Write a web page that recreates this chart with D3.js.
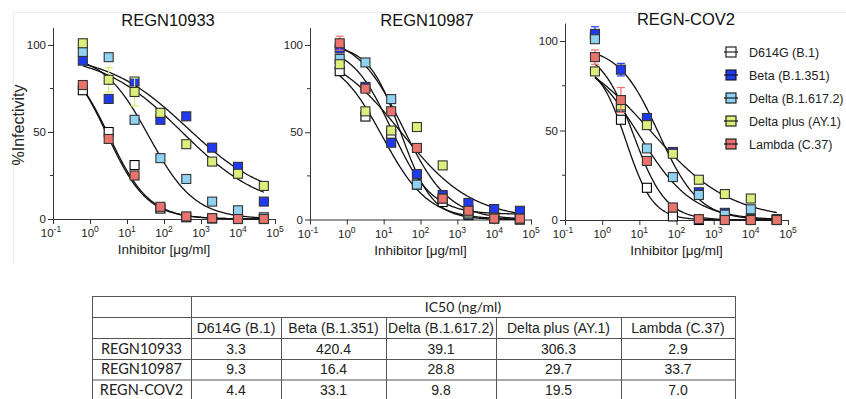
<!DOCTYPE html>
<html><head><meta charset="utf-8">
<script src="https://cdn.jsdelivr.net/npm/d3@7"></script>
<style>body{margin:0;background:#fff;} svg{display:block;}</style>
</head><body>
<script>
// ---------- DATA ----------
const concentrations = [0.64, 3.2, 16, 80, 400, 2000, 10000, 50000];
const variants = ["D614G (B.1)", "Beta (B.1.351)", "Delta (B.1.617.2)", "Delta plus (AY.1)", "Lambda (C.37)"];
const antibodies = ["REGN10933", "REGN10987", "REGN-COV2"];
const xTickExponents = [-1, 0, 1, 2, 3, 4, 5];
const yTickValues = [0, 50, 100];
const yMinorTicks = [25, 75];

// % infectivity per variant (rows follow `variants`)
const regn10933Values = [
  [74, 50, 31, 6, 1, 0.3, 0, 0],
  [91, 69, 79, 57, 59, 41, 30, 10],
  [96, 93, 57, 35, 23, 10, 5, 1],
  [101, 80, 73, 61, 43, 33, 26, 19],
  [77, 46, 25, 7, 1.5, 0.5, 0, 0]
];
const regn10987Values = [
  [85, 59, 49, 20, 10, 2.5, 0.5, 0],
  [98, 76, 44, 26, 14, 9.5, 6, 5],
  [92, 90, 69, 20, 12, 3, 1, 0],
  [89, 62, 51, 53, 31, 4, 1, 0.5],
  [101, 75, 62, 41, 12, 5, 0.5, 0.5]
];
const regnCov2Values = [
  [102, 56, 18, 2, 0, 0, 0, 0],
  [104, 84, 57, 38, 15.5, 4, 0.5, 0.5],
  [101, 63, 40, 24, 14, 3, 6, 0],
  [83, 64, 53, 37, 22.5, 14.5, 12, 0.5],
  [91, 67, 33, 7, 0.5, 0, 0, 0]
];
// error bars: [antibody index, variant index, concentration index, SD]
const errorBars = [
  [0, 3, 1, 7], [0, 3, 2, 8], [0, 4, 0, 2],
  [1, 4, 0, 4],
  [2, 1, 0, 4], [2, 1, 1, 3.5], [2, 4, 0, 4], [2, 4, 1, 7], [2, 3, 6, 2]
];

// IC50 table (ng/ml), rows follow `antibodies`, columns follow `variants`
const ic50Table = [
  [3.3, 420.4, 39.1, 306.3, 2.9],
  [9.3, 16.4, 28.8, 29.7, 33.7],
  [4.4, 33.1, 9.8, 19.5, 7.0]
];
// fitted 4PL curve parameters [top, bottom, hill] per variant
const regn10933Fit = [[95, 0, 0.8], [95, 10, 0.4], [95, 0, 0.7], [95, 5, 0.4], [97, 0, 0.8]];
const regn10987Fit = [[95, 0, 0.7], [100, 3, 0.8], [100, 0, 1.0], [100, 0, 0.45], [105, 0, 0.7]];
const regnCov2Fit  = [[88, 0, 1.2], [97, 0, 0.8], [95, 0, 0.6], [100, 0, 0.4], [95, 0, 1.0]];

const allValues = [regn10933Values, regn10987Values, regnCov2Values];
const allFits = [regn10933Fit, regn10987Fit, regnCov2Fit];

// ---------- STYLE / LAYOUT ----------
const colors = ["#ffffff", "#1f3af2", "#8fd2f2", "#dcef7c", "#e8746d"];
const errColors = ["#000000", "#2a45f5", "#7cc8f0", "#d6ec6a", "#ef6f6f"];
const font = "'Liberation Sans', Arial, sans-serif";
const panels = [
  {x0: 53, x1: 275, y0: 219, y100: 45, titleX: 168, titleY: 26},
  {x0: 310, x1: 531, y0: 219.5, y100: 45, titleX: 427, titleY: 26},
  {x0: 565, x1: 788, y0: 220, y100: 41, titleX: 686, titleY: 25}
];

const svg = d3.select("body").append("svg").attr("width", 846).attr("height", 399);

// faint frame of the original figure
svg.append("line").attr("x1", 13).attr("x2", 846).attr("y1", 12.5).attr("y2", 12.5).attr("stroke", "#ececec");
svg.append("line").attr("x1", 13.5).attr("x2", 13.5).attr("y1", 12).attr("y2", 265).attr("stroke", "#ececec");

panels.forEach((p, pi) => {
  const g = svg.append("g");
  const x = d3.scaleLog().domain([0.1, 1e5]).range([p.x0, p.x1]);
  const yTop = p.y0 - 1.1 * (p.y0 - p.y100);
  const y = d3.scaleLinear().domain([0, 110]).range([p.y0, yTop]);

  // x axis
  const xa = g.append("g").attr("transform", `translate(0,${p.y0})`)
    .call(d3.axisBottom(x).tickValues(xTickExponents.map(e => Math.pow(10, e))).tickSize(5).tickSizeOuter(0).tickFormat(""));
  xa.select(".domain").attr("stroke", "#333");
  xa.selectAll(".tick line").attr("stroke", "#333");
  xTickExponents.forEach(e => {
    const t = g.append("text").attr("x", x(Math.pow(10, e)) - (e < 0 ? 2 : 0)).attr("y", p.y0 + 18)
      .attr("text-anchor", "middle").attr("font-family", font).attr("font-size", 11.5).attr("fill", "#222");
    t.append("tspan").text("10");
    t.append("tspan").attr("dy", -5).attr("font-size", 8.5).text(String(e));
  });

  // y axis
  const ya = g.append("g").attr("transform", `translate(${p.x0},0)`)
    .call(d3.axisLeft(y).tickValues(yTickValues).tickSize(5).tickSizeOuter(0).tickPadding(2));
  ya.select(".domain").attr("stroke", "#333");
  ya.selectAll(".tick line").attr("stroke", "#333");
  ya.selectAll(".tick text").attr("font-family", font).attr("font-size", 11.5).attr("fill", "#222");
  yMinorTicks.forEach(v => {
    g.append("line").attr("x1", p.x0 - 3).attr("x2", p.x0).attr("y1", y(v)).attr("y2", y(v)).attr("stroke", "#333");
  });

  // title
  g.append("text").attr("x", p.titleX).attr("y", p.titleY).attr("text-anchor", "middle")
    .attr("font-family", font).attr("font-size", 16.5).attr("fill", "#111").text(antibodies[pi]);
  // x title
  g.append("text").attr("x", (p.x0 + p.x1) / 2).attr("y", p.y0 + 35).attr("text-anchor", "middle")
    .attr("font-family", font).attr("font-size", 13.5).attr("fill", "#222").text("Inhibitor [\u03bcg/ml]");

  // fitted curves
  const fits = allFits[pi];
  const xs = d3.range(0, 201).map(i => Math.pow(10, Math.log10(0.64) + i * (Math.log10(50000) - Math.log10(0.64)) / 200));
  const line = d3.line().x(d => x(d[0])).y(d => y(d[1]));
  fits.forEach((f, vi) => {
    const ic50 = ic50Table[pi][vi];
    const pts = xs.map(c => [c, f[1] + (f[0] - f[1]) / (1 + Math.pow(c / ic50, f[2]))]);
    g.append("path").attr("d", line(pts)).attr("fill", "none").attr("stroke", "#111").attr("stroke-width", 1.3);
  });

  // error bars + points
  const vals = allValues[pi];
  vals.forEach((series, vi) => {
    errorBars.filter(e => e[0] === pi && e[1] === vi).forEach(e => {
      const cx = x(concentrations[e[2]]), v = series[e[2]];
      const eg = g.append("g").attr("stroke", errColors[vi]).attr("stroke-width", 1.2);
      eg.append("line").attr("x1", cx).attr("x2", cx).attr("y1", y(v - e[3])).attr("y2", y(v + e[3]));
      eg.append("line").attr("x1", cx - 4).attr("x2", cx + 4).attr("y1", y(v - e[3])).attr("y2", y(v - e[3]));
      eg.append("line").attr("x1", cx - 4).attr("x2", cx + 4).attr("y1", y(v + e[3])).attr("y2", y(v + e[3]));
    });
    g.selectAll(null).data(series).enter().append("rect")
      .attr("x", (d, i) => x(concentrations[i]) - 4.5).attr("y", d => y(d) - 4.5)
      .attr("width", 9).attr("height", 9)
      .attr("fill", colors[vi]).attr("stroke", vi === 0 ? "#000" : "#333").attr("stroke-width", 1.1);
  });
});

// y title
svg.append("text").attr("transform", "translate(24,125) rotate(-90)").attr("text-anchor", "middle")
  .attr("font-family", font).attr("font-size", 16).attr("fill", "#222").text("%Infectivity");

// legend
variants.forEach((v, i) => {
  const ly = 52 + i * 23;
  svg.append("line").attr("x1", 724).attr("x2", 738).attr("y1", ly).attr("y2", ly).attr("stroke", "#111").attr("stroke-width", 1.3);
  svg.append("rect").attr("x", 726).attr("y", ly - 5).attr("width", 10).attr("height", 10)
    .attr("fill", colors[i]).attr("stroke", "#111").attr("stroke-width", 1.1);
  svg.append("line").attr("x1", 726).attr("x2", 736).attr("y1", ly).attr("y2", ly).attr("stroke", "#111").attr("stroke-width", 1.1);
  svg.append("text").attr("x", 749).attr("y", ly + 4.5).attr("font-family", font).attr("font-size", 12.5)
    .attr("fill", "#222").text(v);
});

// table
const colX = [92, 191, 281, 386, 496, 621, 735];
const rowY = [296, 317, 338, 359, 379.5, 400];
const tg = svg.append("g");
const tstroke = "#555";
rowY.forEach((ry) => {
  tg.append("line").attr("x1", colX[0]).attr("x2", colX[6]).attr("y1", ry + 0.5).attr("y2", ry + 0.5).attr("stroke", tstroke);
});
colX.forEach((cx, i) => {
  const top = (i === 0 || i === 1 || i === 6) ? rowY[0] : rowY[1];
  tg.append("line").attr("x1", cx + 0.5).attr("x2", cx + 0.5).attr("y1", top).attr("y2", 400).attr("stroke", tstroke);
});
const calib = "Lato, 'Open Sans', sans-serif";
tg.append("text").attr("x", (colX[1] + colX[6]) / 2).attr("y", (rowY[0] + rowY[1]) / 2 + 5).attr("text-anchor", "middle")
  .attr("font-family", calib).attr("font-size", 14).attr("fill", "#222").text("IC50 (ng/ml)");
variants.forEach((v, i) => {
  tg.append("text").attr("x", (colX[i + 1] + colX[i + 2]) / 2).attr("y", (rowY[1] + rowY[2]) / 2 + 5)
    .attr("text-anchor", "middle").attr("font-family", font).attr("font-size", 14).attr("fill", "#222").text(v);
});
antibodies.forEach((a, r) => {
  const cy = (rowY[r + 2] + rowY[r + 3]) / 2 + 5;
  tg.append("text").attr("x", (colX[0] + colX[1]) / 2).attr("y", cy).attr("text-anchor", "middle")
    .attr("font-family", calib).attr("font-size", 14.5).attr("fill", "#222").text(a);
  ic50Table[r].forEach((v, c) => {
    tg.append("text").attr("x", (colX[c + 1] + colX[c + 2]) / 2).attr("y", cy).attr("text-anchor", "middle")
      .attr("font-family", font).attr("font-size", 14).attr("fill", "#222").text(v.toFixed(1));
  });
});
</script>
</body></html>
